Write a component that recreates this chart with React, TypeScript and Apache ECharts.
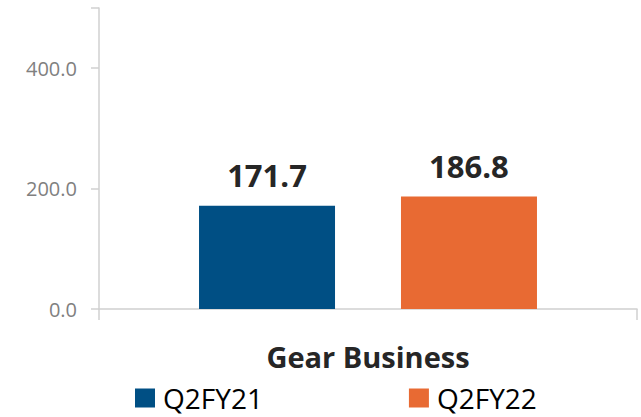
import React, { useEffect, useRef } from "react";
import * as echarts from "echarts";

const categories = ["Gear Business"];
const seriesNames = ["Q2FY21", "Q2FY22"];
const q2fy21 = [171.7];
const q2fy22 = [186.8];
const yTicks = [0, 200, 400];

const FONT = "'Open Sans', 'Noto Sans', sans-serif";

export default function App() {
  const ref = useRef<HTMLDivElement>(null);
  useEffect(() => {
    if (!ref.current) return;
    const chart = echarts.init(ref.current, undefined, { renderer: "svg" });
    const label = {
      show: true,
      position: "top",
      distance: 15,
      fontFamily: FONT,
      fontSize: 31,
      fontWeight: "bold",
      color: "#262626",
      formatter: (p: any) => Number(p.value).toFixed(1),
    };
    chart.setOption({
      animation: false,
      textStyle: { fontFamily: FONT },
      grid: { left: 99, right: 4, top: 8, bottom: 108, containLabel: false },
      legend: {
        left: 135,
        top: 383,
        padding: 0,
        itemWidth: 20,
        itemHeight: 19,
        itemGap: 146,
        icon: "rect",
        textStyle: { fontFamily: FONT, fontSize: 28, lineHeight: 30, color: "#000000", padding: [0, 0, 0, 3] },
        data: seriesNames,
      },
      xAxis: {
        type: "category",
        data: categories,
        axisLine: { show: true, lineStyle: { color: "#d0d0d0", width: 1.5 } },
        axisTick: { show: true, length: 11, alignWithLabel: false, lineStyle: { color: "#d0d0d0", width: 1.5 } },
        axisLabel: {
          margin: 33,
          fontFamily: FONT,
          fontSize: 29,
          fontWeight: "bold",
          color: "#262626",
        },
      },
      yAxis: {
        type: "value",
        min: 0,
        max: 500,
        interval: 200,
        axisLine: { show: true, lineStyle: { color: "#d0d0d0", width: 1.5 } },
        axisTick: { show: true, length: 8, lineStyle: { color: "#d0d0d0", width: 1.5 } },
        splitLine: { show: false },
        axisLabel: {
          margin: 22,
          fontFamily: FONT,
          fontSize: 20,
          color: "#808080",
          formatter: (v: number) => (yTicks.includes(v) ? v.toFixed(1) : ""),
        },
      },
      series: [
        {
          name: seriesNames[0],
          type: "bar",
          data: q2fy21,
          barWidth: 136,
          barGap: "48.5%",
          itemStyle: { color: "#004F84" },
          label,
        },
        {
          name: seriesNames[1],
          type: "bar",
          data: q2fy22,
          barWidth: 136,
          barGap: "48.5%",
          itemStyle: { color: "#E86A33" },
          label,
        },
      ],
    });
    return () => chart.dispose();
  }, []);
  return <div ref={ref} style={{ width: 641, height: 417, position: "absolute", left: 0, top: 0 }} />;
}
